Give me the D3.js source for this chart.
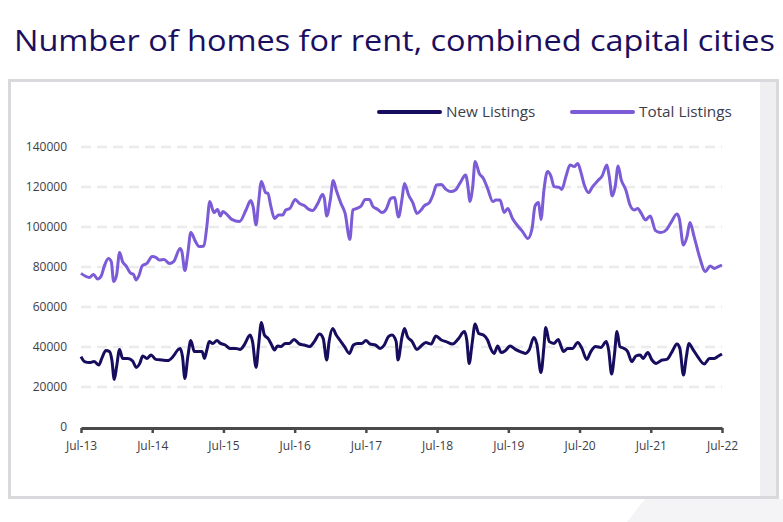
<!DOCTYPE html>
<html>
<head>
<meta charset="utf-8">
<script src="https://cdn.jsdelivr.net/npm/d3@7"></script>
<style>
  body { margin: 0; background: #fff; }
  svg { display: block; font-family: "Open Sans", "Noto Sans", sans-serif; }
</style>
</head>
<body>
<svg id="chart" width="783" height="522"></svg>
<script>
// months since Jul-13, with values
const totalMonths = [0, 1.4, 2.1, 2.8, 3.4, 3.9, 4.6, 5.1, 5.5, 6.0, 6.5, 7.0, 7.6, 8.4, 8.8, 9.3, 9.8, 10.3, 11.1, 12.0,
  12.6, 13.2, 14.0, 14.9, 15.6, 16.7, 17.0, 17.5, 18.0, 18.5, 19.3, 19.9, 20.7, 21.2, 21.7, 22.4, 23.0, 23.5, 23.9, 24.4,
  25.4, 26.7, 27.8, 28.6, 29.0, 29.5, 29.9, 30.4, 31.1, 31.5, 32.0, 32.6, 33.3, 34.0, 34.5, 35.2, 36.1, 36.8, 37.6, 38.4,
  39.0, 39.9, 40.7, 41.0, 41.4, 42.0, 42.5, 43.0, 43.8, 44.5, 45.3, 45.8, 46.5, 47.2, 47.9, 48.6, 49.2, 50.0, 50.7, 51.4,
  52.2, 52.8, 53.5, 54.1, 54.5, 55.2, 55.9, 56.6, 57.3, 57.8, 58.7, 59.3, 59.9, 60.7, 61.5, 62.3, 63.1, 63.9, 64.8, 65.2,
  65.5, 66.0, 66.4, 67.1, 67.8, 68.5, 69.4, 69.9, 70.6, 71.3, 71.9, 72.7, 73.6, 74.4, 75.3, 76.0, 76.5, 77.1, 77.5, 78.0,
  78.6, 79.2, 79.7, 80.6, 81.0, 81.7, 82.4, 83.1, 83.7, 84.2, 84.8, 85.5, 86.2, 87.1, 87.8, 88.6, 89.0, 89.5, 90.0, 90.5,
  91.0, 91.8, 92.5, 93.2, 93.8, 94.4, 95.1, 95.9, 96.8, 97.7, 98.6, 99.4, 100.4, 100.8, 101.5, 102.1, 102.6, 103.3, 104.2, 105.2,
  106.0, 106.7, 107.4, 108.0];
const totalListings = [76800, 74800, 76300, 74000, 75500, 80200, 84200, 82700, 72700, 76000, 87300, 82700, 80500, 76800, 76500, 73500, 76000, 80500, 81800, 85200,
  84800, 83500, 83800, 81800, 82700, 89300, 87700, 78200, 86800, 97200, 92700, 90200, 90500, 100200, 112700, 107200, 108800, 105500, 107700, 106800,
  103800, 102700, 108500, 113200, 110200, 101000, 111800, 122700, 117200, 116800, 110200, 104300, 106000, 106000, 108500, 109300, 113800, 111800, 110700, 108800,
  108200, 111800, 116300, 114300, 105500, 113500, 123200, 118500, 111800, 106800, 93800, 108500, 109300, 110500, 113800, 113800, 110200, 108800, 107200, 108800,
  114300, 114800, 105000, 114300, 121800, 116000, 112200, 106800, 108500, 110500, 112200, 116000, 121000, 121300, 118800, 117700, 118500, 122200, 126000, 120200,
  112700, 120200, 132700, 126800, 124300, 119300, 112700, 113500, 113500, 107200, 109300, 104300, 100500, 97700, 94300, 99300, 110500, 112200, 103800, 118500,
  127700, 125200, 120200, 119800, 118800, 125200, 131000, 130200, 131800, 127700, 121000, 117200, 120200, 123200, 125500, 131000, 125200, 115500, 120200, 130500,
  123800, 118500, 111000, 108500, 109300, 106800, 103500, 105500, 98200, 97200, 98500, 102200, 106500, 104300, 91000, 95200, 102200, 95200, 85200, 77700,
  80500, 79300, 80200, 81000];

const newMonths = [0, 0.6, 1.4, 2.2, 3.0, 3.5, 4.2, 4.8, 5.2, 5.6, 6.0, 6.5, 7.0, 7.9, 8.7, 9.3, 9.9, 10.4, 11.1, 11.8,
  12.6, 13.6, 14.6, 15.5, 16.3, 16.7, 17.1, 17.5, 18.0, 18.5, 19.1, 19.8, 20.4, 20.8, 21.2, 21.6, 22.2, 22.9, 23.5, 24.3,
  25.1, 26.1, 26.8, 27.5, 28.5, 28.9, 29.5, 29.9, 30.4, 30.9, 31.5, 32.0, 32.6, 33.1, 33.7, 34.4, 35.1, 35.9, 36.8, 37.6,
  38.5, 39.3, 40.2, 40.8, 41.4, 41.8, 42.4, 43.0, 43.6, 44.4, 45.2, 45.9, 46.6, 47.3, 48.0, 48.7, 49.6, 50.4, 51.1, 51.8,
  52.4, 53.1, 53.4, 54.1, 54.5, 55.0, 55.8, 56.6, 57.3, 58.1, 59.0, 59.8, 60.7, 61.5, 62.6, 63.5, 64.6, 65.0, 65.4, 65.9,
  66.4, 67.0, 67.8, 68.5, 69.1, 69.6, 70.2, 70.8, 71.5, 72.3, 73.2, 74.0, 74.9, 75.5, 76.3, 76.8, 77.5, 78.0, 78.3, 78.9,
  79.7, 80.4, 80.9, 81.3, 82.0, 82.8, 83.7, 84.4, 85.2, 85.9, 86.7, 87.6, 88.5, 88.9, 89.4, 89.9, 90.3, 90.8, 91.5, 92.1,
  92.8, 93.5, 94.2, 94.7, 95.5, 96.2, 96.9, 97.9, 98.7, 99.6, 100.4, 100.9, 101.5, 102.0, 102.4, 103.1, 103.9, 105.0, 105.9, 106.7,
  107.4, 108.0];
const newListings = [35200, 32700, 32200, 32700, 31000, 34300, 38200, 37700, 33500, 23800, 30200, 38800, 34300, 34300, 33000, 29800, 31800, 35500, 34300, 36000,
  33800, 33500, 33200, 35200, 38500, 39300, 35200, 24300, 35200, 43200, 37700, 37700, 37700, 34300, 38500, 42700, 41800, 43200, 41800, 41000,
  39300, 39300, 38800, 41000, 46000, 42700, 29800, 40200, 52200, 46000, 44300, 41800, 38500, 40500, 40200, 41800, 41800, 43800, 41500, 41000,
  40200, 42700, 46500, 44300, 33500, 42700, 49300, 46000, 43500, 40200, 36800, 41000, 41800, 41800, 43200, 41500, 41000, 39300, 41000, 45200,
  46000, 42700, 33500, 45200, 49300, 45200, 42700, 38800, 40500, 42200, 41500, 45500, 43500, 42700, 41500, 43800, 47700, 43500, 31800, 41800,
  51500, 46800, 46000, 43500, 38800, 36800, 40500, 37200, 38200, 40500, 38800, 37700, 36800, 38500, 44800, 41500, 27200, 40200, 49800, 42700,
  41800, 43800, 40200, 37700, 39300, 39300, 42200, 39300, 33800, 37700, 40200, 39800, 42700, 38500, 26500, 36800, 47700, 40200, 39300, 37700,
  32700, 35500, 36000, 34300, 37200, 33500, 31800, 33500, 33800, 37700, 41500, 39300, 26000, 35200, 41800, 38800, 35200, 31500, 34300, 34300,
  35500, 36500];

const tickMonths = [0, 12, 24, 36, 48, 60, 72, 84, 96, 108];
const tickLabels = ["Jul-13", "Jul-14", "Jul-15", "Jul-16", "Jul-17", "Jul-18", "Jul-19", "Jul-20", "Jul-21", "Jul-22"];
const yTicks = [0, 20000, 40000, 60000, 80000, 100000, 120000, 140000];

const seriesNames = ["New Listings", "Total Listings"];
const seriesColors = ["#170d5f", "#7b5bd6"];

const svg = d3.select("#chart");

// title
svg.append("text")
  .attr("x", 14).attr("y", 51)
  .attr("textLength", 761).attr("lengthAdjust", "spacingAndGlyphs")
  .attr("font-size", 30).attr("fill", "#1a0f5e")
  .text("Number of homes for rent, combined capital cities");

// decoration bottom right
svg.append("polygon")
  .attr("points", "627,522 645,499 783,499 783,522")
  .attr("fill", "#f4f4f6");

// panel
svg.append("rect")
  .attr("x", 9.5).attr("y", 80.5).attr("width", 768).attr("height", 417)
  .attr("fill", "#fff").attr("stroke", "#d9d9dd").attr("stroke-width", 3);
svg.append("rect")
  .attr("x", 760).attr("y", 82).attr("width", 16).attr("height", 414)
  .attr("fill", "#efeff1");

const x = d3.scaleLinear().domain([0, 108]).range([81, 722]);
const y = d3.scaleLinear().domain([0, 140000]).range([427, 147]);

// gridlines
svg.append("g")
  .selectAll("line")
  .data(yTicks.slice(1))
  .enter().append("line")
  .attr("x1", 81).attr("x2", 722)
  .attr("y1", d => y(d)).attr("y2", d => y(d))
  .attr("stroke", "#ebebeb").attr("stroke-width", 2.5)
  .attr("stroke-dasharray", "10,6");

// y axis labels
const yAxis = svg.append("g")
  .attr("transform", "translate(81,0)")
  .call(d3.axisLeft(y).tickValues(yTicks).tickSize(0).tickPadding(14).tickFormat(d3.format("d")));
yAxis.select(".domain").remove();
yAxis.selectAll("text").attr("font-size", 12).attr("fill", "#3d3d47")
  .attr("font-family", "'Open Sans', sans-serif");

// x axis
const xAxis = svg.append("g")
  .attr("transform", "translate(0,428)")
  .call(d3.axisBottom(x).tickValues(tickMonths).tickSize(5).tickSizeOuter(0).tickPadding(8)
    .tickFormat((d, i) => tickLabels[i]));
xAxis.select(".domain").attr("stroke", "#4a4a4a").attr("stroke-width", 3);
xAxis.selectAll(".tick line").attr("stroke", "#4a4a4a").attr("stroke-width", 2.5);
xAxis.selectAll("text").attr("font-size", 12).attr("fill", "#3d3d47")
  .attr("font-family", "'Open Sans', sans-serif");

// lines
const line = d3.line()
  .x(d => x(d[0]))
  .y(d => y(d[1]))
  .curve(d3.curveMonotoneX);

const totalData = totalMonths.map((m, i) => [m, totalListings[i]]);
const newData = newMonths.map((m, i) => [m, newListings[i]]);

svg.append("path")
  .datum(totalData)
  .attr("d", line)
  .attr("fill", "none")
  .attr("stroke", seriesColors[1])
  .attr("stroke-width", 3)
  .attr("stroke-linejoin", "round");

svg.append("path")
  .datum(newData)
  .attr("d", line)
  .attr("fill", "none")
  .attr("stroke", seriesColors[0])
  .attr("stroke-width", 3)
  .attr("stroke-linejoin", "round");

// legend
const legendX = [379, 572];
const legend = svg.append("g")
  .selectAll("g")
  .data(seriesNames)
  .enter().append("g")
  .attr("transform", (d, i) => `translate(${legendX[i]},112)`);
legend.append("line")
  .attr("x1", 0).attr("x2", 61)
  .attr("stroke", (d, i) => seriesColors[i])
  .attr("stroke-width", 4)
  .attr("stroke-linecap", "round");
legend.append("text")
  .attr("x", 67).attr("y", 5)
  .attr("font-size", 15.3)
  .attr("fill", "#3d3d4a")
  .text(d => d);
</script>
</body>
</html>
